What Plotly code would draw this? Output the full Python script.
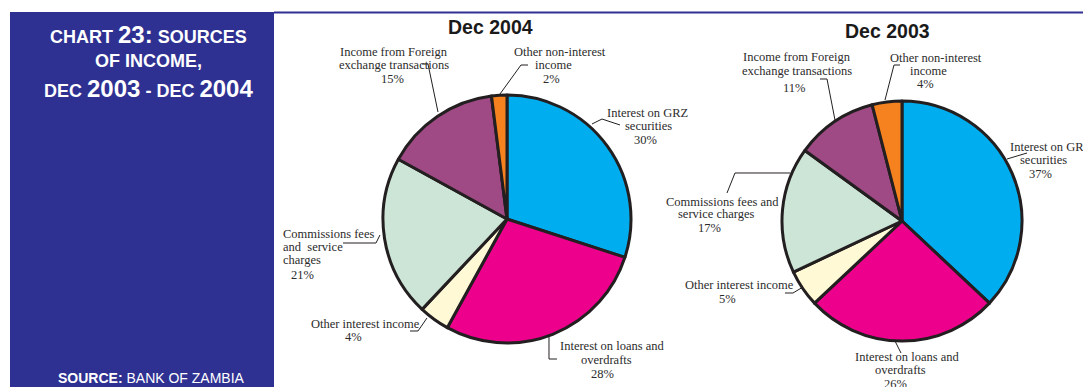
import plotly.graph_objects as go

# ---- data -------------------------------------------------------------
categories = [
    "Interest on GRZ securities",
    "Interest on loans and overdrafts",
    "Other interest income",
    "Commissions fees and service charges",
    "Income from Foreign exchange transactions",
    "Other non-interest income",
]
share_dec2004 = [30, 28, 4, 21, 15, 2]
share_dec2003 = [37, 26, 5, 17, 11, 4]
panel_titles = ["Dec 2004", "Dec 2003"]

# ---- layout constants -------------------------------------------------
W, H = 1083, 387
slice_colors = ["#00ADEE", "#EC008C", "#FFF9D6", "#CDE5D6", "#A04A85", "#F5821F"]
outline = "#231F20"
navy = "#2E3192"
label_color = "#2B2B2B"
serif = "Liberation Serif, Times New Roman, serif"
sans = "Liberation Sans, Arial, sans-serif"


def px(x):
    return x / W


def py(y):
    return 1 - y / H


# pie centre and radius in pixels
pies = [
    dict(values=share_dec2004, cx=507, cy=219, r=124, title=panel_titles[0], tx=490, ty=27),
    dict(values=share_dec2003, cx=902, cy=221, r=120, title=panel_titles[1], tx=887, ty=31),
]

# slice labels: list of (text, x, y, anchor) per line, one block per category
labels_2004 = [
    [("Interest on GRZ", 647, 113, "center"), ("securities", 648, 126, "center"), ("{v}%", 645, 140, "center")],
    [("Interest on loans and", 612, 346, "center"), ("overdrafts", 606, 360, "center"), ("{v}%", 602, 374, "center")],
    [("Other interest income", 365, 324, "center"), ("{v}%", 353, 337, "center")],
    [("Commissions fees", 281, 234, "left"), ("and  service", 281, 247, "left"), ("charges", 281, 260, "left"), ("{v}%", 302, 275, "center")],
    [("Income from Foreign", 394, 52, "center"), ("exchange transactions", 394, 65, "center"), ("{v}%", 392, 79, "center")],
    [("Other non-interest", 560, 52, "center"), ("income", 553, 65, "center"), ("{v}%", 551, 79, "center")],
]
labels_2003 = [
    [("Interest on GRZ", 1008, 147, "left"), ("securities", 1043, 160, "center"), ("{v}%", 1040, 174, "center")],
    [("Interest on loans and", 907, 357, "center"), ("overdrafts", 900, 370, "center"), ("{v}%", 895, 384, "center")],
    [("Other interest income", 739, 285, "center"), ("{v}%", 727, 299, "center")],
    [("Commissions fees and", 722, 202, "center"), ("service charges", 716, 214, "center"), ("{v}%", 709, 228, "center")],
    [("Income from Foreign", 797, 57, "center"), ("exchange transactions", 797, 71, "center"), ("{v}%", 794, 88, "center")],
    [("Other non-interest", 936, 58, "center"), ("income", 928, 71, "center"), ("{v}%", 925, 84, "center")],
]

# leader lines (pixel polylines) from label to pie edge
leaders = [
    [(592, 124), (602, 119), (620, 125)],
    [(549, 337), (549, 359), (557, 359)],
    [(410, 331), (418, 331), (427, 318)],
    [(380, 235), (376, 243), (343, 243)],
    [(422, 64), (428, 64), (438, 112)],
    [(528, 65), (521, 65), (500, 94)],
    [(1007, 159), (1027, 153)],
    [(895, 341), (901, 353)],
    [(785, 293), (793, 293), (803, 287)],
    [(727, 193), (735, 173), (790, 173)],
    [(820, 79), (827, 79), (835, 120)],
    [(900, 65), (894, 65), (885, 100)],
]

fig = go.Figure()

for p in pies:
    fig.add_trace(go.Pie(
        labels=categories,
        values=p["values"],
        sort=False,
        direction="clockwise",
        rotation=0,
        textinfo="none",
        hoverinfo="label+percent",
        marker=dict(colors=slice_colors, line=dict(color=outline, width=3)),
        domain=dict(x=[px(p["cx"] - p["r"]), px(p["cx"] + p["r"])],
                    y=[py(p["cy"] + p["r"]), py(p["cy"] - p["r"])]),
        showlegend=False,
    ))

annotations = []
for p in pies:
    annotations.append(dict(
        text="<b>%s</b>" % p["title"], x=px(p["tx"]), y=py(p["ty"]),
        xref="paper", yref="paper", showarrow=False, xanchor="center", yanchor="middle",
        font=dict(family=sans, size=19.5, color="#1A1A1A"),
    ))

for vals, blocks in ((share_dec2004, labels_2004), (share_dec2003, labels_2003)):
    for v, block in zip(vals, blocks):
        for text, x, y, anchor in block:
            annotations.append(dict(
                text=text.format(v=v), x=px(x), y=py(y), xref="paper", yref="paper",
                showarrow=False, xanchor=anchor, yanchor="middle",
                font=dict(family=serif, size=12.5, color=label_color),
            ))

# side panel heading
big = "font-size:24px"
heading = [
    ("CHART <span style='%s'>23:</span> SOURCES" % big, 34),
    ("OF INCOME,", 61),
    ("DEC <span style='%s'>2003</span> - DEC <span style='%s'>2004</span>" % (big, big), 88),
]
for text, y in heading:
    annotations.append(dict(
        text="<b>%s</b>" % text, x=px(148), y=py(y), xref="paper", yref="paper",
        showarrow=False, xanchor="center", yanchor="middle",
        font=dict(family=sans, size=18, color="white"),
    ))
annotations.append(dict(
    text="<b>SOURCE:</b> BANK OF ZAMBIA", x=px(151), y=py(378), xref="paper", yref="paper",
    showarrow=False, xanchor="center", yanchor="middle",
    font=dict(family=sans, size=14, color="white"),
))

shapes = [
    dict(type="rect", xref="paper", yref="paper", x0=px(10), x1=px(274), y0=py(400), y1=py(12),
         fillcolor=navy, line=dict(width=0), layer="below"),
    dict(type="line", xref="paper", yref="paper", x0=px(274), x1=px(1083), y0=py(12.5), y1=py(12.5),
         line=dict(color=navy, width=2)),
]
for pts in leaders:
    path = "M " + " L ".join("%f,%f" % (px(x), py(y)) for x, y in pts)
    shapes.append(dict(type="path", xref="paper", yref="paper", path=path,
                       line=dict(color=outline, width=1)))

fig.update_layout(
    width=W, height=H,
    margin=dict(l=0, r=0, t=0, b=0),
    paper_bgcolor="white", plot_bgcolor="white",
    annotations=annotations, shapes=shapes,
)

fig.write_html("out.html")
